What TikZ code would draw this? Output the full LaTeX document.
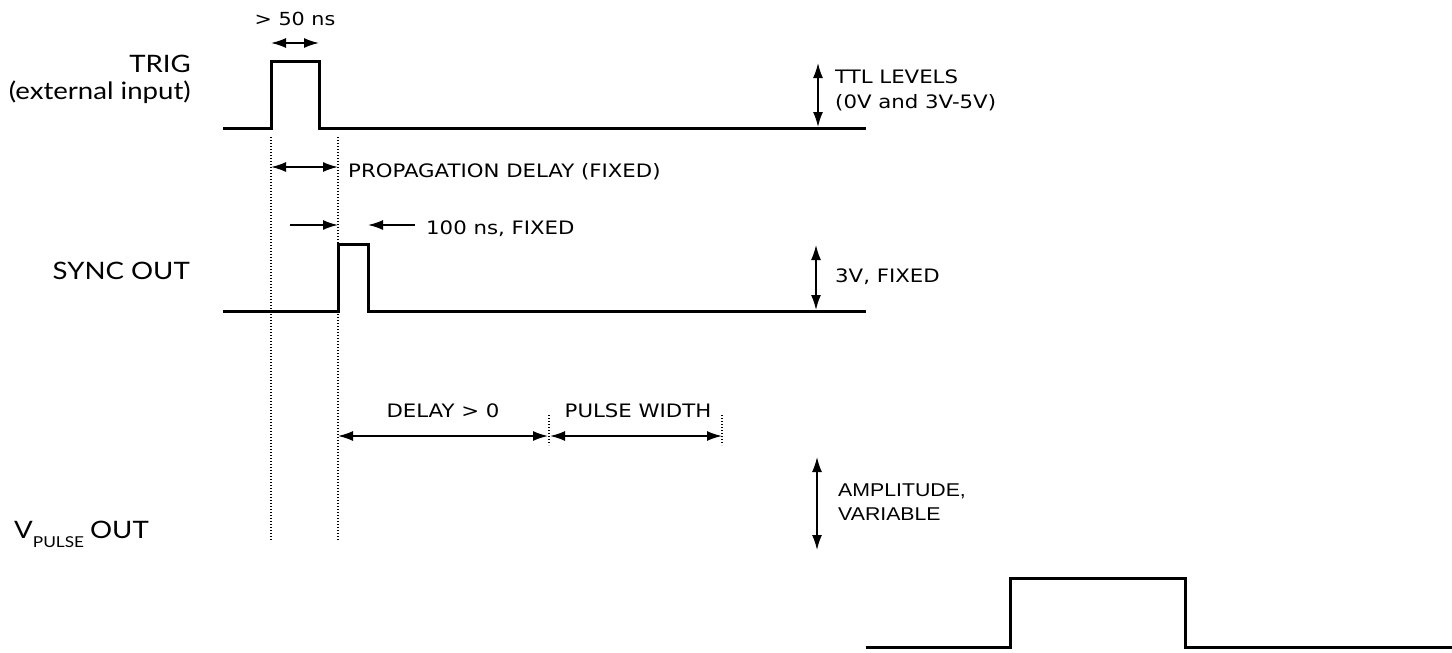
\documentclass[tikz,border=0pt]{standalone}
\usepackage{fontspec}
\setmainfont[FakeStretch=1.15]{DejaVu Sans}
\newfontfamily\sigfont[FakeStretch=1.15]{Lato}
\newfontfamily\arialfont[FakeStretch=1.15]{Liberation Sans}
\usetikzlibrary{arrows.meta}

\begin{document}
\begin{tikzpicture}[x=1pt,y=-1pt,
  wave/.style={line width=3pt,line join=miter},
  dimarrow/.style={line width=1.6pt,{Latex[length=15pt,width=10pt]}-{Latex[length=15pt,width=10pt]}},
  onearrow/.style={line width=1.6pt,-{Latex[length=15pt,width=10pt]}},
  guide/.style={line width=1.2pt,dash pattern=on 1.4pt off 1.6pt},
  note/.style={inner sep=0pt,font=\fontsize{18.5}{25}\selectfont},
  signame/.style={inner sep=0pt,font=\sigfont\fontsize{24}{29}\selectfont}]
\useasboundingbox (0,0) rectangle (1452,653);

% pulse edges
\coordinate (trigup) at (271,128);
\coordinate (trigdown) at (319,128);
\coordinate (syncup) at (338,311);
\coordinate (syncdown) at (368,311);
\coordinate (vup) at (1010,647);
\coordinate (vdown) at (1185,647);

% waveforms
\draw[wave] (223,128) -- (trigup) -- (271,61) -- (319,61) -- (trigdown) -- (866,128);
\draw[wave] (223,311) -- (syncup) -- (338,244) -- (368,244) -- (syncdown) -- (866,311);
\draw[wave] (866,647) -- (vup) -- (1010,578) -- (1185,578) -- (vdown) -- (1452,647);

% guide lines
\coordinate (g1top) at (271,137);
\coordinate (g1bot) at (271,540);
\coordinate (g2top) at (338,137);
\coordinate (g2bot) at (338,540);
\draw[guide] (g1top) -- (g1bot);
\draw[guide] (g2top) -- (g2bot);
\coordinate (g3top) at (549,415);
\coordinate (g3bot) at (549,445);
\coordinate (g4top) at (722,415);
\coordinate (g4bot) at (722,445);
\draw[guide] (g3top) -- (g3bot);
\draw[guide] (g4top) -- (g4bot);

% signal names
\node[signame,anchor=base east] (trig) at (191,72) {TRIG};
\node[signame,anchor=base east] (trigin) at (191,99) {(external input)};
\node[signame,anchor=base east] (sync) at (190,279) {SYNC OUT};
\node[signame,anchor=base west] (vpulse) at (14,538)
  {V\raisebox{-9pt}{\fontsize{15}{15}\selectfont PULSE}\kern6pt OUT};

% trigger width
\node[note,anchor=base,font=\fontsize{18}{20}\selectfont] (trigwidth) at (295,25) {> 50 ns};
\coordinate (tw1) at (271,43);
\coordinate (tw2) at (319,43);
\draw[dimarrow] (tw1) -- (tw2);

% levels
\coordinate (ttl1) at (818,63);
\coordinate (ttl2) at (818,127);
\draw[dimarrow] (ttl1) -- (ttl2);
\node[note,anchor=base west] (ttl) at (835,83) {TTL LEVELS};
\node[note,anchor=base west] (ttlval) at (835,108) {(0V and 3V-5V)};

\coordinate (sl1) at (816,245);
\coordinate (sl2) at (816,310);
\draw[dimarrow] (sl1) -- (sl2);
\node[note,anchor=base west] (synclevel) at (835,282) {3V, FIXED};

\coordinate (am1) at (817,457);
\coordinate (am2) at (817,550);
\draw[dimarrow] (am1) -- (am2);
\node[note,anchor=base west,font=\arialfont\fontsize{18.5}{24}\selectfont] (amp) at (838,496) {AMPLITUDE,};
\node[note,anchor=base west,font=\arialfont\fontsize{18.5}{24}\selectfont] (ampvar) at (838,520) {VARIABLE};

% propagation delay
\coordinate (pd1) at (271,167);
\coordinate (pd2) at (338,167);
\draw[dimarrow] (pd1) -- (pd2);
\node[note,anchor=base west] (prop) at (348,177) {PROPAGATION DELAY (FIXED)};

% sync width
\coordinate (sw1) at (290,225);
\coordinate (sw2) at (338,225);
\coordinate (sw3) at (415,225);
\coordinate (sw4) at (368,225);
\draw[onearrow] (sw1) -- (sw2);
\draw[onearrow] (sw3) -- (sw4);
\node[note,anchor=base west] (syncwidth) at (426,234) {100 ns, FIXED};

% delay and pulse width
\coordinate (dl1) at (338,436);
\coordinate (dl2) at (548,436);
\coordinate (dl3) at (550,436);
\coordinate (dl4) at (722,436);
\draw[dimarrow] (dl1) -- (dl2);
\draw[dimarrow] (dl3) -- (dl4);
\node[note,anchor=base] (delay) at (443,417) {DELAY > 0};
\node[note,anchor=base] (width) at (638,417) {PULSE WIDTH};
\end{tikzpicture}
\end{document}
